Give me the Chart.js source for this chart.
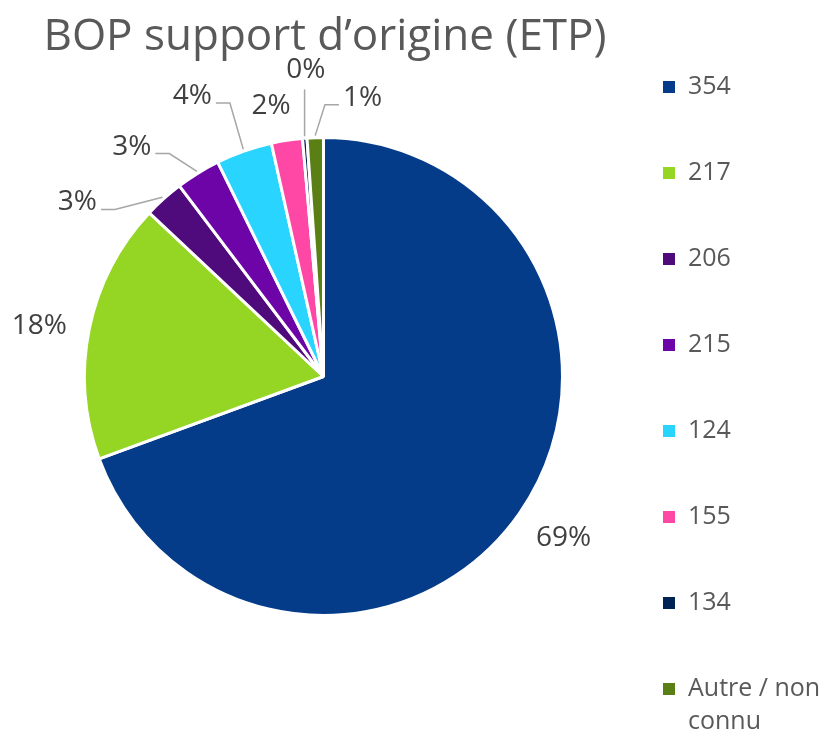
<!DOCTYPE html>
<html>
<head>
<meta charset="utf-8">
<script src="https://cdn.jsdelivr.net/npm/chart.js@4.4.0/dist/chart.umd.min.js"></script>
<style>
  html, body { margin: 0; padding: 0; background: #fff; }
  #wrap { width: 838px; height: 738px; }
</style>
</head>
<body>
<div id="wrap"><canvas id="myChart" width="838" height="738"></canvas></div>
<script>
const titleText = "BOP support d’origine (ETP)";
const categories = ["354", "217", "206", "215", "124", "155", "134", "Autre / non connu"];
const shares = [69.4, 17.6, 2.7, 3.0, 3.8, 2.1, 0.3, 1.1];
const colors = ["#043C8A", "#95D524", "#4F0B7B", "#6D04A8", "#29D4FF", "#FF48A5", "#002356", "#5A7F14"];

// décalage des étiquettes (px) par rapport à la position par défaut
const labelNudge = [[3, -4], [-1, 7], [-53, 41], [-40, 16], [-35, -8], [-8, 15], [5, -18], [49, 10]];
const showLeader = [false, false, true, true, true, false, true, true];

const FONT = "'Open Sans', 'Noto Sans', sans-serif";

const pieExtras = {
  id: "pieExtras",
  afterDraw(chart) {
    const ctx = chart.ctx;
    const meta = chart.getDatasetMeta(0);
    const total = shares.reduce((a, b) => a + b, 0);
    ctx.save();

    // titre
    ctx.fillStyle = "#595959";
    ctx.font = "44px " + FONT;
    ctx.textAlign = "center";
    ctx.textBaseline = "middle";
    ctx.fillText(titleText, 325, 37);

    // étiquettes de données + lignes de repère
    ctx.font = "28px " + FONT;
    meta.data.forEach((arc, i) => {
      const { x, y, startAngle, endAngle, outerRadius } =
        arc.getProps(["x", "y", "startAngle", "endAngle", "outerRadius"], true);
      const mid = (startAngle + endAngle) / 2;
      const lx = x + Math.cos(mid) * (outerRadius + 50) + labelNudge[i][0];
      const ly = y + Math.sin(mid) * (outerRadius + 50) + labelNudge[i][1];
      const txt = Math.round((shares[i] / total) * 100) + "%";
      const w = ctx.measureText(txt).width;

      if (showLeader[i]) {
        const sx = x + Math.cos(mid) * (outerRadius + 2);
        const sy = y + Math.sin(mid) * (outerRadius + 2);
        ctx.strokeStyle = "#A6A6A6";
        ctx.lineWidth = 1.5;
        ctx.beginPath();
        if (Math.abs(lx - sx) < w / 2) {
          ctx.moveTo(sx, sy);
          ctx.lineTo(sx, ly + 19);
        } else {
          const side = lx < sx ? 1 : -1;
          const ex = lx + side * (w / 2 + 4);
          const ey = ly + 7;
          ctx.moveTo(sx, sy);
          ctx.lineTo(ex + side * 14, ey);
          ctx.lineTo(ex, ey);
        }
        ctx.stroke();
      }
      ctx.fillStyle = "#404040";
      ctx.fillText(txt, lx, ly);
    });

    // légende
    ctx.font = "25px " + FONT;
    ctx.textAlign = "left";
    categories.forEach((c, i) => {
      const yy = 87 + i * 86;
      ctx.fillStyle = colors[i];
      ctx.fillRect(663, yy - 6, 12, 12);
      ctx.fillStyle = "#595959";
      const lines = c === "Autre / non connu" ? ["Autre / non", "connu"] : [c];
      lines.forEach((t, k) => ctx.fillText(t, 688, yy + k * 33));
    });

    ctx.restore();
  },
};

new Chart(document.getElementById("myChart").getContext("2d"), {
  type: "pie",
  data: {
    labels: categories,
    datasets: [
      {
        data: shares,
        backgroundColor: colors,
        borderColor: "#ffffff",
        borderWidth: 3,
      },
    ],
  },
  options: {
    responsive: false,
    animation: false,
    events: [],
    layout: { padding: { left: 83, right: 274, top: 136, bottom: 121 } },
    plugins: {
      legend: { display: false },
      tooltip: { enabled: false },
    },
  },
  plugins: [pieExtras],
});
</script>
</body>
</html>
